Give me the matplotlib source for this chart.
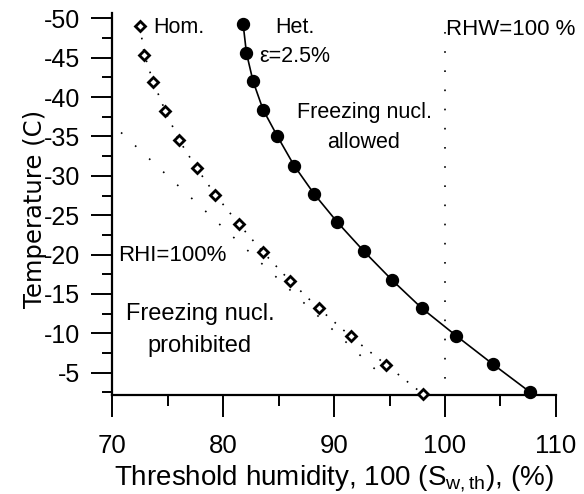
import matplotlib
matplotlib.use("Agg")
import matplotlib.pyplot as plt

plt.rcParams['axes.unicode_minus'] = False
plt.rcParams['mathtext.fontset'] = 'custom'
plt.rcParams['mathtext.rm'] = 'Liberation Sans'
plt.rcParams['mathtext.it'] = 'Liberation Sans:italic'
plt.rcParams['font.family'] = ['Liberation Sans', 'DejaVu Sans']

# ---------------- data ----------------
het_T = [-49.3, -45.6, -42.0, -38.4, -35.0, -31.3, -27.7, -24.1, -20.4, -16.8, -13.2, -9.7, -6.1, -2.5]
het_S = [81.8, 82.1, 82.7, 83.6, 84.9, 86.4, 88.2, 90.3, 92.7, 95.2, 97.9, 101.0, 104.3, 107.7]

hom_T = [-49.0, -45.4, -41.9, -38.2, -34.6, -31.0, -27.6, -23.9, -20.3, -16.7, -13.2, -9.6, -6.0, -2.3]
hom_S = [72.5, 72.9, 73.7, 74.8, 76.0, 77.6, 79.3, 81.4, 83.6, 86.0, 88.6, 91.5, 94.7, 98.0]

rhi_T = [-35.5, -4.0]
rhi_S = [70.8, 94.8]

rhw_T = [-48.3, -2.17]
rhw_S = [100.0, 100.0]

x_ticks = [70, 80, 90, 100, 110]
x_minor = [75, 85, 95, 105]
y_ticks = [-50, -45, -40, -35, -30, -25, -20, -15, -10, -5]
y_tick_labels = ['-50', '-45', '-40', '-35', '-30', '-25', '-20', '-15', '-10', '-5']
y_minor = [-47.5, -42.5, -37.5, -32.5, -27.5, -22.5, -17.5, -12.5, -7.5, -2.5]

# ---------------- figure ----------------
fig = plt.figure(figsize=(5.84, 4.94), dpi=100)
ax = fig.add_axes([0.1921, 0.2004, 0.7599, 0.7737])

ax.set_xlim(70, 110)
ax.set_ylim(-2.17, -50.7)

# reference lines
ax.plot(rhi_S, rhi_T, color='black', lw=1.2, linestyle=(0, (1, 10.5)))
ax.plot(rhw_S, rhw_T, color='black', lw=1.2, linestyle=(0, (1, 10.5)))

# homogeneous (dotted with open diamonds)
ax.plot(hom_S, hom_T, color='black', lw=1.2, linestyle=(0, (1, 6)))
ax.plot(hom_S, hom_T, linestyle='none', marker='D', ms=4.8, mfc='white',
        mec='black', mew=2.0, clip_on=False, zorder=4)

# heterogeneous (solid with filled circles)
ax.plot(het_S, het_T, color='black', lw=1.2, marker='o', ms=8.6,
        mfc='black', mec='black', clip_on=False, zorder=4)

# spines / ticks
for s in ['top', 'right']:
    ax.spines[s].set_visible(False)
for s in ['left', 'bottom']:
    ax.spines[s].set_linewidth(1.6)

ax.set_xticks(x_ticks)
ax.set_xticks(x_minor, minor=True)
ax.set_yticks(y_ticks)
ax.set_yticklabels(y_tick_labels)
ax.set_yticks(y_minor, minor=True)

ax.tick_params(axis='x', which='major', direction='out', length=15.8, width=1.4,
               pad=12, labelsize=18.5)
ax.tick_params(axis='x', which='minor', direction='out', length=8, width=1.4)
ax.tick_params(axis='y', which='major', direction='out', length=14.8, width=1.4,
               pad=8.5, labelsize=18)
ax.tick_params(axis='y', which='minor', direction='out', length=7.4, width=1.4)

ax.set_xlabel(r'Threshold humidity, 100 (S$_{\mathrm{w,th}}$), (%)', fontsize=20)
ax.xaxis.set_label_coords(0.4987, -0.18)
ax.xaxis.label.set_va('top')

ax.set_ylabel('Temperature (C)', fontsize=17.5, family='DejaVu Sans')
ax.yaxis.set_label_coords(-0.147, 0.4867)

# annotations
ax.text(73.7, -48.1, 'Hom.', fontsize=15.5, ha='left', va='baseline')
ax.text(84.7, -48.1, 'Het.', fontsize=15.5, ha='left', va='baseline')
ax.text(83.3, -44.5, '\u03b5=2.5%', fontsize=15.5, ha='left', va='baseline')
ax.text(100.1, -47.9, 'RHW=100 %', fontsize=16, ha='left', va='baseline')
ax.text(92.7, -37.3, 'Freezing nucl.', fontsize=15.5, ha='center', va='baseline')
ax.text(92.7, -33.5, 'allowed', fontsize=15.5, ha='center', va='baseline')
ax.text(70.5, -19.2, 'RHI=100%', fontsize=16, ha='left', va='baseline')
ax.text(77.9, -11.7, 'Freezing nucl.', fontsize=17, ha='center', va='baseline')
ax.text(77.9, -7.66, 'prohibited', fontsize=17, ha='center', va='baseline')

fig.savefig('out.png', dpi=100)
